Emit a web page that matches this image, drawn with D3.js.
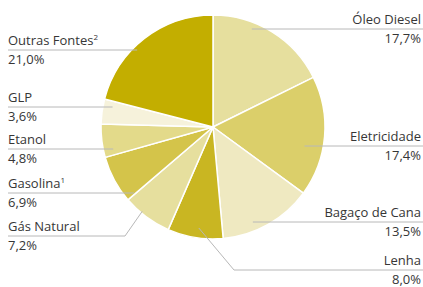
<!DOCTYPE html>
<html>
<head>
<meta charset="utf-8">
<script src="https://cdn.jsdelivr.net/npm/d3@7"></script>
<style>
  html, body { margin: 0; padding: 0; background: #fff; }
  svg text { font-family: "Open Sans", sans-serif; font-size: 13px; fill: #363636; }
</style>
</head>
<body>
<div id="pie"></div>
<script>
// Slices in drawing order, clockwise from 12 o'clock
const categories = ['Óleo Diesel', 'Eletricidade', 'Bagaço de Cana', 'Lenha', 'Gás Natural', 'Gasolina', 'Etanol', 'GLP', 'Outras Fontes'];
const shares = [17.7, 17.4, 13.5, 8.0, 7.2, 6.9, 4.8, 3.6, 21.0];
const shareLabels = ['17,7%', '17,4%', '13,5%', '8,0%', '7,2%', '6,9%', '4,8%', '3,6%', '21,0%'];
const footnotes = ['', '', '', '', '', '1', '', '', '2'];
const colors = ['#e6df9e', '#dbcf6a', '#efe9c1', '#c9b622', '#e6df9e', '#d4c44a', '#e3da8a', '#f6f2db', '#c3ae00'];

const full_width = 423, full_height = 287;
const cx = 213, cy = 127, radius = 112;

// leader line layout: side, y of the horizontal rule, anchor inside the slice (angle deg from top, radius)
const labelLayout = {
  'Óleo Diesel':    {side: 'right', y: 29,  a: 21.7, r: 105},
  'Eletricidade':   {side: 'right', y: 146, a: 96,   r: 92},
  'Bagaço de Cana': {side: 'right', y: 222, a: 156,  r: 98},
  'Lenha':          {side: 'right', y: 270, a: 188,  r: 102, bendX: 234},
  'Gás Natural':    {side: 'left',  y: 236, a: 220,  r: 110, bendX: 125},
  'Gasolina':       {side: 'left',  y: 193, a: 238,  r: 93},
  'Etanol':         {side: 'left',  y: 149, a: 258,  r: 102},
  'GLP':            {side: 'left',  y: 107, a: 280,  r: 102},
  'Outras Fontes':  {side: 'left',  y: 50,  a: 310,  r: 99}
};

const data = categories.map((c, i) => ({
  name: c, value: shares[i], label: shareLabels[i], note: footnotes[i], color: colors[i]
}));

const svg = d3.select('#pie')
  .append('svg')
    .attr('width', full_width)
    .attr('height', full_height);

const pie = d3.pie().sort(null).value(d => d.value);
const arc = d3.arc().innerRadius(0).outerRadius(radius);

const g = svg.append('g').attr('transform', 'translate(' + cx + ',' + cy + ')');

g.selectAll('path')
  .data(pie(data))
  .enter()
  .append('path')
    .attr('d', arc)
    .style('fill', d => d.data.color)
    .style('stroke', '#fff')
    .style('stroke-width', 1.5)
    .style('stroke-linejoin', 'round');

// polar -> page coordinates
const polar = (a, r) => {
  const t = a * Math.PI / 180;
  return [cx + r * Math.sin(t), cy - r * Math.cos(t)];
};

const left = 8, right = 421;
const labels = svg.append('g');

data.forEach(d => {
  const L = labelLayout[d.name];
  const p = polar(L.a, L.r);
  const end = L.side === 'right' ? full_width : left;
  let pts = [p];
  if (L.bendX !== undefined) pts.push([L.bendX, L.y]);
  else pts[0] = [p[0], L.y];
  pts.push([end, L.y]);

  labels.append('path')
    .attr('d', d3.line()(pts))
    .style('fill', 'none')
    .style('stroke', '#b8b8b8')
    .style('stroke-width', 1);

  const x = L.side === 'right' ? right : left;
  const anchor = L.side === 'right' ? 'end' : 'start';

  const t = labels.append('text')
    .attr('x', x)
    .attr('y', L.y - 5)
    .attr('text-anchor', anchor)
    .text(d.name);
  if (d.note) {
    t.append('tspan')
      .attr('font-size', '8px')
      .attr('dy', -5)
      .text(d.note);
  }

  labels.append('text')
    .attr('x', x)
    .attr('y', L.y + 14)
    .attr('text-anchor', anchor)
    .text(d.label);
});
</script>
</body>
</html>
